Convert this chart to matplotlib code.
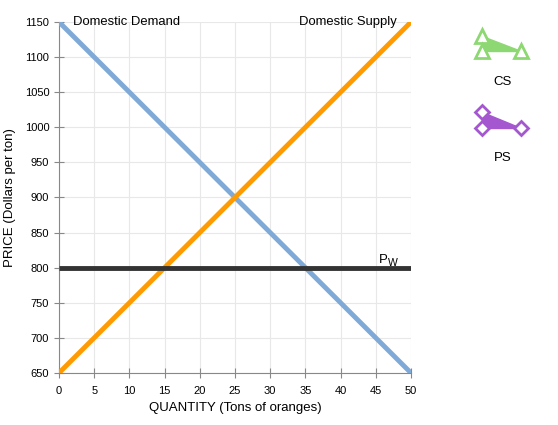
import matplotlib.pyplot as plt
from matplotlib.patches import Polygon

# data
quantity = [0, 50]
demand_price = [1150, 650]
supply_price = [650, 1150]
world_price = 800
x_ticks = list(range(0, 55, 5))
y_ticks = list(range(650, 1200, 50))

demand_color = "#7fa9d6"
supply_color = "#ff9b00"
pw_color = "#333333"

plt.rcParams["font.family"] = ["Liberation Sans", "DejaVu Sans"]

fig = plt.figure(figsize=(5.58, 4.25), dpi=100)
ax = fig.add_axes([0.1057, 0.1224, 0.6309, 0.8259])

ax.plot(quantity, demand_price, color=demand_color, lw=3.5, solid_capstyle="butt", zorder=3)
ax.plot(quantity, supply_price, color=supply_color, lw=3.5, solid_capstyle="butt", zorder=3)
ax.plot(quantity, [world_price, world_price], color=pw_color, lw=3.5, solid_capstyle="butt", zorder=4)

ax.set_xlim(0, 50)
ax.set_ylim(650, 1150)
ax.set_xticks(x_ticks)
ax.set_yticks(y_ticks)
ax.grid(color="#e8e8e8", lw=0.8)
ax.set_axisbelow(True)
for s in ["top", "right"]:
    ax.spines[s].set_visible(False)
for s in ["left", "bottom"]:
    ax.spines[s].set_color("#888888")
ax.tick_params(direction="inout", length=7, color="#888888", labelsize=8)
ax.tick_params(axis="x", pad=6)
ax.set_xlabel("QUANTITY (Tons of oranges)", fontsize=9.5)
ax.set_ylabel("PRICE (Dollars per ton)", fontsize=9.5, labelpad=6)

ax.text(2, 1150, "Domestic Demand", fontsize=9.4, va="center", ha="left")
ax.text(48.0, 1150, "Domestic Supply", fontsize=9.4, va="center", ha="right")
ax.text(45.5, 803, "P", fontsize=9.5, va="bottom", ha="left")
ax.text(46.7, 800, "W", fontsize=7.5, va="bottom", ha="left")

# legend panel, in pixel coordinates of the figure
lg = fig.add_axes([0, 0, 1, 1])
lg.set_xlim(0, 558)
lg.set_ylim(425, 0)
lg.axis("off")

cs_pts = [(482, 36), (482, 51), (521, 51)]
lg.add_patch(Polygon(cs_pts, closed=True, color="#8ed873", zorder=2))
lg.plot([p[0] for p in cs_pts], [p[1] for p in cs_pts], ls="none", marker="^",
        ms=10, mfc="white", mec="#8ed873", mew=2, zorder=3)
lg.text(503, 82, "CS", fontsize=9.5, ha="center", va="center")

ps_pts = [(482, 112), (482, 128), (521, 128)]
lg.add_patch(Polygon(ps_pts, closed=True, color="#a557d0", zorder=2))
lg.plot([p[0] for p in ps_pts], [p[1] for p in ps_pts], ls="none", marker="D",
        ms=7.5, mfc="white", mec="#a557d0", mew=2, zorder=3)
lg.text(503, 158, "PS", fontsize=9.5, ha="center", va="center")

fig.savefig("out.png", dpi=100)
